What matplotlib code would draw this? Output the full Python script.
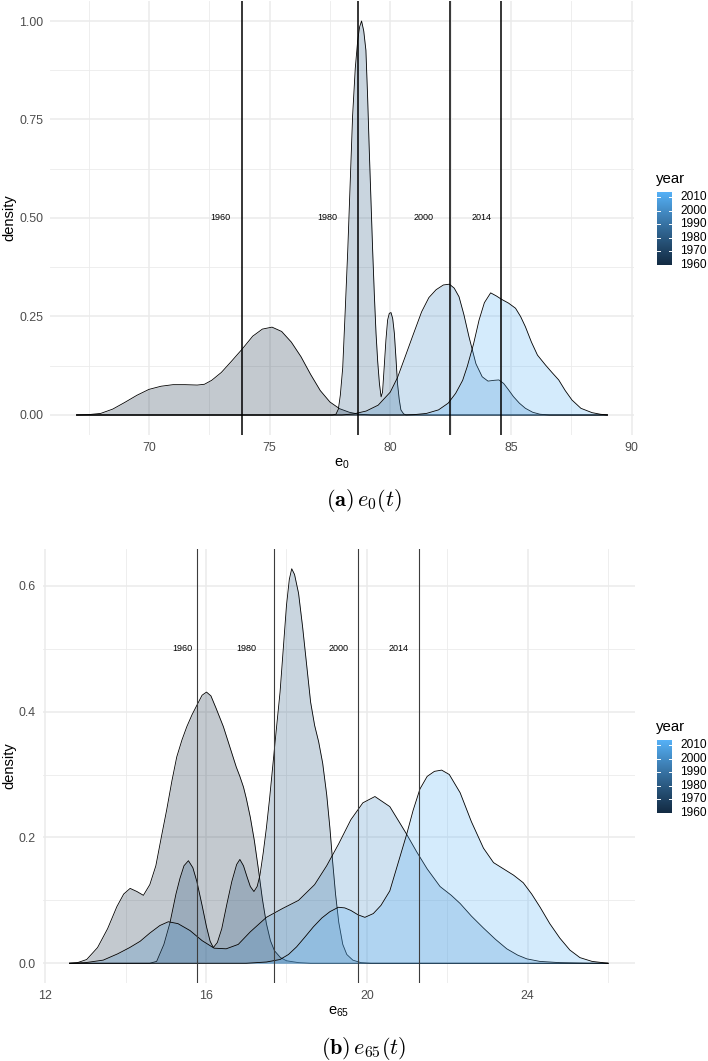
import numpy as np
import matplotlib
matplotlib.use("Agg")
import matplotlib.pyplot as plt
from matplotlib.colors import ListedColormap, Normalize

plt.rcParams['font.family'] = ['Liberation Sans', 'DejaVu Sans']

# ---------------- data ----------------
years = [1960, 1980, 2000, 2014]
year_limits = (1960, 2014)
legend_breaks = [1960, 1970, 1980, 1990, 2000, 2010]

# panel (a): e0 densities
e0_x_1960 = [67.0, 67.5, 68.0, 68.5, 69.0, 69.5, 70.0, 70.5, 71.0, 71.5, 72.0, 72.3, 72.6, 73.0, 73.4,
             73.86, 74.3, 74.7, 75.1, 75.5, 75.9, 76.3, 76.7, 77.1, 77.5, 77.9, 78.3, 78.7, 79.2, 89.0]
e0_d_1960 = [0.0, 0.001, 0.004, 0.015, 0.032, 0.050, 0.065, 0.073, 0.077, 0.077, 0.076, 0.078, 0.088, 0.108, 0.135,
             0.167, 0.200, 0.218, 0.223, 0.212, 0.185, 0.148, 0.103, 0.062, 0.033, 0.016, 0.007, 0.002, 0.0, 0.0]

e0_x_1980 = [67.0, 77.6, 77.75, 77.85, 77.93, 78.03, 78.13, 78.24, 78.34, 78.44, 78.55, 78.65, 78.73, 78.81,
             78.9, 78.99, 79.06, 79.13, 79.2, 79.27, 79.34, 79.41, 79.48, 79.55, 79.62, 79.68, 79.75, 79.82,
             79.89, 79.96, 80.03, 80.1, 80.17, 80.24, 80.3, 80.37, 80.44, 80.55, 80.65, 89.0]
e0_d_1980 = [0.0, 0.0, 0.002, 0.015, 0.05, 0.12, 0.26, 0.42, 0.59, 0.76, 0.88, 0.95, 0.985, 1.0,
             0.975, 0.926, 0.81, 0.672, 0.545, 0.418, 0.305, 0.207, 0.135, 0.08, 0.046, 0.058, 0.123, 0.19,
             0.241, 0.258, 0.26, 0.245, 0.207, 0.14, 0.08, 0.04, 0.013, 0.003, 0.0, 0.0]

e0_x_2000 = [67.0, 78.0, 78.5, 79.0, 79.5, 80.0, 80.3, 80.6, 80.92, 81.3, 81.6, 81.9, 82.2, 82.45, 82.65,
             82.85, 83.05, 83.26, 83.55, 83.81, 84.05, 84.3, 84.5, 84.7, 84.9, 85.1, 85.35, 85.6, 85.9,
             86.2, 86.6, 89.0]
e0_d_2000 = [0.0, 0.0, 0.003, 0.010, 0.025, 0.058, 0.095, 0.145, 0.199, 0.262, 0.298, 0.318, 0.330, 0.332, 0.322,
             0.300, 0.255, 0.199, 0.130, 0.097, 0.086, 0.088, 0.089, 0.080, 0.064, 0.047, 0.030, 0.017, 0.007,
             0.002, 0.0, 0.0]

e0_x_2014 = [67.0, 80.5, 81.0, 81.5, 82.0, 82.4, 82.71, 83.0, 83.19, 83.45, 83.68, 83.9, 84.16, 84.4, 84.6,
             84.9, 85.19, 85.4, 85.6, 85.85, 86.1, 86.43, 86.7, 86.98, 87.25, 87.53, 87.9, 88.36, 88.7, 89.0]
e0_d_2014 = [0.0, 0.0, 0.001, 0.004, 0.013, 0.030, 0.055, 0.088, 0.123, 0.180, 0.241, 0.285, 0.310, 0.302, 0.294,
             0.284, 0.271, 0.250, 0.224, 0.185, 0.152, 0.127, 0.108, 0.089, 0.062, 0.038, 0.017, 0.006, 0.002, 0.0]

e0_means = [73.86, 78.65, 82.48, 84.60]
e0_label_x = [72.97, 77.38, 81.37, 83.77]

# panel (b): e65 densities
e65_x_1960 = [12.6, 12.8, 13.03, 13.3, 13.55, 13.78, 13.95, 14.11, 14.28, 14.44, 14.6, 14.75, 14.9, 15.02,
              15.15, 15.27, 15.4, 15.52, 15.65, 15.77, 15.9, 16.01, 16.12, 16.25, 16.43, 16.59, 16.75, 16.84,
              16.93, 17.0, 17.1, 17.2, 17.3, 17.4, 17.5, 17.6, 17.7, 17.85, 18.0, 18.3, 18.6, 26.0]
e65_d_1960 = [0.0, 0.001, 0.006, 0.025, 0.055, 0.090, 0.110, 0.119, 0.114, 0.108, 0.125, 0.155, 0.205, 0.244,
              0.290, 0.328, 0.355, 0.376, 0.395, 0.410, 0.426, 0.431, 0.425, 0.405, 0.376, 0.344, 0.312, 0.297,
              0.280, 0.262, 0.232, 0.195, 0.150, 0.102, 0.063, 0.036, 0.020, 0.009, 0.004, 0.001, 0.0, 0.0]

e65_x_1980 = [12.6, 14.6, 14.77, 14.95, 15.1, 15.25, 15.35, 15.45, 15.56, 15.67, 15.77, 15.9, 16.01, 16.1,
              16.18, 16.28, 16.39, 16.52, 16.64, 16.76, 16.84, 16.93, 17.02, 17.1, 17.19, 17.27, 17.34, 17.42,
              17.5, 17.58, 17.67, 17.76, 17.84, 17.92, 18.0, 18.07, 18.13, 18.2, 18.3, 18.4, 18.5, 18.6, 18.7,
              18.8, 18.9, 19.0, 19.08, 19.15, 19.22, 19.3, 19.4, 19.5, 19.65, 19.85, 20.1, 26.0]
e65_d_1980 = [0.0, 0.0, 0.003, 0.030, 0.064, 0.110, 0.135, 0.155, 0.163, 0.152, 0.130, 0.092, 0.058, 0.035,
              0.025, 0.033, 0.055, 0.095, 0.130, 0.157, 0.165, 0.155, 0.137, 0.122, 0.114, 0.122, 0.140, 0.175,
              0.215, 0.262, 0.321, 0.380, 0.431, 0.500, 0.569, 0.610, 0.627, 0.618, 0.588, 0.535, 0.475, 0.415,
              0.378, 0.352, 0.318, 0.268, 0.215, 0.160, 0.110, 0.065, 0.030, 0.014, 0.005, 0.001, 0.0, 0.0]

e65_x_2000 = [12.6, 13.0, 13.44, 13.8, 14.1, 14.36, 14.6, 14.85, 15.06, 15.3, 15.6, 15.9, 16.2, 16.5, 16.8,
              17.1, 17.5, 17.9, 18.3, 18.7, 19.0, 19.3, 19.6, 19.9, 20.2, 20.57, 20.8, 20.99, 21.24, 21.5,
              21.82, 22.1, 22.32, 22.6, 22.9, 23.2, 23.48, 23.75, 23.98, 24.3, 24.8, 25.5, 26.0]
e65_d_2000 = [0.0, 0.001, 0.005, 0.015, 0.025, 0.035, 0.048, 0.060, 0.066, 0.063, 0.052, 0.036, 0.024, 0.023, 0.030,
              0.050, 0.073, 0.087, 0.100, 0.125, 0.155, 0.190, 0.228, 0.255, 0.265, 0.249, 0.225, 0.205, 0.177, 0.150,
              0.122, 0.108, 0.095, 0.075, 0.056, 0.038, 0.023, 0.013, 0.007, 0.003, 0.001, 0.0, 0.0]

e65_x_2014 = [12.6, 17.0, 17.5, 17.84, 18.05, 18.25, 18.45, 18.67, 18.88, 19.08, 19.29, 19.45, 19.6, 19.78,
              19.95, 20.16, 20.35, 20.57, 20.78, 20.99, 21.15, 21.32, 21.5, 21.68, 21.86, 22.05, 22.32, 22.6,
              22.9, 23.15, 23.4, 23.65, 23.89, 24.1, 24.31, 24.55, 24.8, 25.05, 25.3, 25.6, 26.0]
e65_d_2014 = [0.0, 0.0, 0.002, 0.006, 0.014, 0.026, 0.041, 0.058, 0.072, 0.082, 0.089, 0.088, 0.084, 0.077,
              0.073, 0.079, 0.092, 0.115, 0.160, 0.205, 0.243, 0.277, 0.297, 0.305, 0.307, 0.300, 0.271, 0.225,
              0.183, 0.160, 0.150, 0.140, 0.128, 0.110, 0.089, 0.063, 0.040, 0.021, 0.009, 0.003, 0.0]

e65_means = [15.77, 17.70, 19.77, 21.30]
e65_label_x = [15.40, 17.00, 19.30, 20.79]
label_y = 0.5

# ---------------- colour scale (ggplot default, Lab interpolation) ----------------
def _hex(h):
    h = h.lstrip('#')
    return np.array([int(h[i:i + 2], 16) / 255 for i in (0, 2, 4)])

_M = np.array([[0.4124564, 0.3575761, 0.1804375],
               [0.2126729, 0.7151522, 0.0721750],
               [0.0193339, 0.1191920, 0.9503041]])
_WHITE = np.array([0.95047, 1.0, 1.08883])

def rgb2lab(c):
    lin = np.where(c <= 0.04045, c / 12.92, ((c + 0.055) / 1.055) ** 2.4)
    xyz = _M @ lin / _WHITE
    f = np.where(xyz > 216 / 24389, np.cbrt(xyz), (24389 / 27 * xyz + 16) / 116)
    return np.array([116 * f[1] - 16, 500 * (f[0] - f[1]), 200 * (f[1] - f[2])])

def lab2rgb(lab):
    fy_ = (lab[0] + 16) / 116
    fx_ = fy_ + lab[1] / 500
    fz_ = fy_ - lab[2] / 200
    f = np.array([fx_, fy_, fz_])
    xyz = np.where(f ** 3 > 216 / 24389, f ** 3, (116 * f - 16) / (24389 / 27)) * _WHITE
    lin = np.linalg.solve(_M, xyz)
    lin = np.clip(lin, 0, 1)
    c = np.where(lin <= 0.0031308, 12.92 * lin, 1.055 * lin ** (1 / 2.4) - 0.055)
    return np.clip(c, 0, 1)

lab_lo, lab_hi = rgb2lab(_hex('#132B43')), rgb2lab(_hex('#56B1F7'))
cmap = ListedColormap([lab2rgb(lab_lo + t * (lab_hi - lab_lo)) for t in np.linspace(0, 1, 256)])
norm = Normalize(*year_limits)

# ---------------- figure ----------------
W, H = 708, 1061
fig = plt.figure(figsize=(W / 100, H / 100), dpi=100)

def fx(px):
    return px / W

def fy(py):
    return 1 - py / H

GRID = '#EBEBEB'
TICKC = '#4D4D4D'


def panel(rect_px, curves, means, label_x, xlim, ylim, xmaj, xmin, ymaj, ymin, ylabels,
          xlabel, vline_color, vline_lw, caption):
    l, t, r, b = rect_px
    ax = fig.add_axes([fx(l), fy(b), fx(r) - fx(l), (b - t) / H])
    for yr, xs, ds in curves:
        col = cmap(norm(yr))
        ax.fill_between(xs, 0, ds, color=col, alpha=0.25, lw=0, zorder=2)
        ax.plot(xs, ds, color='black', lw=0.6, zorder=2, solid_joinstyle='round')
    for m in means:
        ax.axvline(m, color=vline_color, lw=vline_lw, zorder=3)
    for yr, lx in zip(years, label_x):
        ax.text(lx, label_y, str(yr), ha='center', va='center', fontsize=6.5, zorder=4)
    ax.set_xlim(*xlim)
    ax.set_ylim(*ylim)
    ax.set_xticks(xmaj)
    ax.set_xticks(xmin, minor=True)
    ax.set_yticks(ymaj)
    ax.set_yticks(ymin, minor=True)
    ax.set_yticklabels(ylabels)
    ax.grid(which='major', color=GRID, lw=1.1)
    ax.grid(which='minor', color=GRID, lw=0.6)
    ax.set_axisbelow(True)
    for s in ax.spines.values():
        s.set_visible(False)
    ax.tick_params(which='both', length=0, labelsize=8.9, labelcolor=TICKC, pad=5)
    ax.set_ylabel('density', fontsize=10.5)
    ax.yaxis.set_label_coords((16.5 - l) / (r - l), 0.5)
    ax.set_xlabel(xlabel, fontsize=10.5, labelpad=2)
    # legend (colour bar)
    cy = (t + b) / 2
    bar_top, bar_bot = cy - 26, cy + 47
    cax = fig.add_axes([fx(657), fy(bar_bot), fx(672) - fx(657), (bar_bot - bar_top) / H])
    grad = np.linspace(year_limits[0], year_limits[1], 300)[:, None]
    cax.imshow(grad, aspect='auto', cmap=cmap, norm=norm, origin='lower',
               extent=[0, 1, year_limits[0], year_limits[1]])
    for br in legend_breaks:
        cax.plot([0, 0.2], [br, br], color='white', lw=0.7)
        cax.plot([0.8, 1], [br, br], color='white', lw=0.7)
    cax.set_xlim(0, 1)
    cax.set_ylim(*year_limits)
    cax.set_axis_off()
    for br in legend_breaks:
        yy = bar_bot - (br - year_limits[0]) / (year_limits[1] - year_limits[0]) * (bar_bot - bar_top)
        fig.text(fx(680), fy(yy), str(br), fontsize=8.6, ha='left', va='center')
    fig.text(fx(656), fy(cy - 39), 'year', fontsize=10.8, ha='left', va='center')
    # caption
    fig.text(fx(364), fy(b + 66), caption, fontsize=16, ha='center', va='center',
             math_fontfamily='cm')
    return ax


panel((50, 1.3, 634, 434.7),
      [(1960, e0_x_1960, e0_d_1960), (1980, e0_x_1980, e0_d_1980),
       (2000, e0_x_2000, e0_d_2000), (2014, e0_x_2014, e0_d_2014)],
      e0_means, e0_label_x, (65.9, 90.1), (-0.05, 1.05),
      [70, 75, 80, 85, 90], [67.5, 72.5, 77.5, 82.5, 87.5],
      [0, 0.25, 0.5, 0.75, 1.0], [0.125, 0.375, 0.625, 0.875],
      ['0.00', '0.25', '0.50', '0.75', '1.00'],
      r'$\mathregular{e_0}$', 'black', 1.1, r'$\mathbf{(a)}\,e_0(t)$')

panel((42.5, 549, 635, 983),
      [(1960, e65_x_1960, e65_d_1960), (1980, e65_x_1980, e65_d_1980),
       (2000, e65_x_2000, e65_d_2000), (2014, e65_x_2014, e65_d_2014)],
      e65_means, e65_label_x, (11.93, 26.67), (-0.03135, 0.6584),
      [12, 16, 20, 24], [14, 18, 22, 26],
      [0, 0.2, 0.4, 0.6], [0.1, 0.3, 0.5],
      ['0.0', '0.2', '0.4', '0.6'],
      r'$\mathregular{e_{65}}$', '#3C3C3C', 0.8, r'$\mathbf{(b)}\,e_{65}(t)$')

fig.savefig('out.png', dpi=100)
